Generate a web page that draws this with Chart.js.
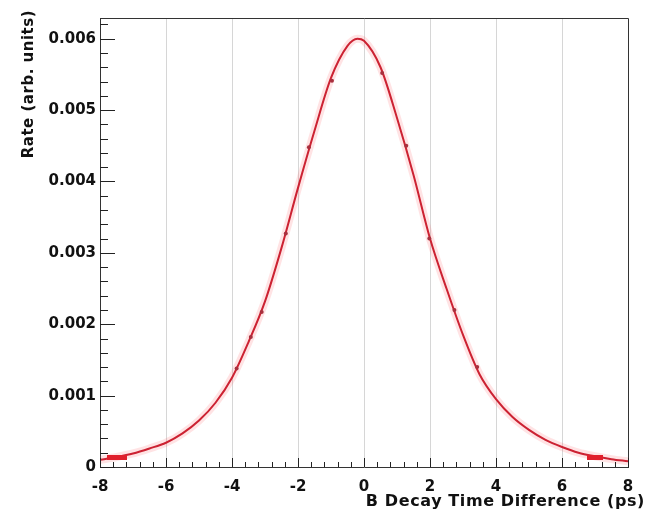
<!DOCTYPE html>
<html>
<head>
<meta charset="utf-8">
<script src="https://cdn.jsdelivr.net/npm/chart.js@4/dist/chart.umd.min.js"></script>
<style>
  html, body { margin: 0; padding: 0; background: #fff; }
  #wrap { width: 647px; height: 515px; position: relative; }
</style>
</head>
<body>
<div id="wrap"><canvas id="c" width="647" height="515"></canvas></div>
<script>
// Fitted decay-time-difference distribution (rate in arb. units)
const fitTimes = [-8, -7.5, -7, -6.5, -6, -5.5, -5, -4.5, -4, -3.5, -3, -2.5, -2, -1.5, -1, -0.5, -0.2,
                  0, 0.5, 1, 1.5, 2, 2.5, 3, 3.5, 4, 4.5, 5, 5.5, 6, 6.5, 7, 7.5, 8];
const fitRates = [0.00010, 0.00014, 0.00019, 0.00026, 0.00034, 0.00047, 0.00065, 0.00090, 0.00125, 0.00175,
                  0.00232, 0.00307, 0.00391, 0.00471, 0.00545, 0.00590, 0.00600,
                  0.00597, 0.00560, 0.00489, 0.00409, 0.00320, 0.00250, 0.00185, 0.00130, 0.00095,
                  0.00070, 0.00052, 0.00038, 0.00028, 0.00020, 0.00015, 0.00011, 0.00008];

// Measured points along the curve
const dataTimes = [-3.86, -3.43, -3.10, -2.37, -1.67, -0.97, 0.55, 1.28, 1.98, 2.74, 3.43];
const dataRates = [0.00138, 0.00182, 0.00217, 0.00327, 0.00448, 0.00541, 0.00552, 0.00450, 0.00320, 0.00220, 0.00140];

// Edge bins
const edgeTimes = [-7.5, 7.0];
const edgeRates = [0.00014, 0.00013];

// Axis ticks
const xTickValues = [-8, -6, -4, -2, 0, 2, 4, 6, 8];
const xTickLabels = ['-8', '-6', '-4', '-2', '0', '2', '4', '6', '8'];
const yTickValues = [0, 0.001, 0.002, 0.003, 0.004, 0.005, 0.006];
const yTickLabels = ['0', '0.001', '0.002', '0.003', '0.004', '0.005', '0.006'];

const xTitle = 'B Decay Time Difference (ps)';
const yTitle = 'Rate (arb. units)';

const X_MIN = -8, X_MAX = 8, Y_MIN = 0, Y_MAX = 0.00629;
const FONT = '"DejaVu Sans", "Liberation Sans", sans-serif';

const pts = (xs, ys) => xs.map((t, i) => ({ x: t, y: ys[i] }));

// Inward major/minor ticks, frame and axis titles
const axisDecor = {
  id: 'axisDecor',
  afterDraw(chart) {
    const { ctx, chartArea: a, scales: { x, y } } = chart;
    ctx.save();
    ctx.strokeStyle = '#333';
    ctx.lineWidth = 1;
    ctx.beginPath();
    ctx.moveTo(a.left + 0.5, a.top + 0.5);
    ctx.lineTo(a.right + 0.5, a.top + 0.5);
    ctx.lineTo(a.right + 0.5, a.bottom + 0.5);
    ctx.stroke();

    ctx.strokeStyle = '#222';
    ctx.beginPath();
    const xMinor = 0.4;
    const nx = Math.round((X_MAX - X_MIN) / xMinor);
    for (let i = 0; i <= nx; i++) {
      const px = Math.round(x.getPixelForValue(X_MIN + i * xMinor)) + 0.5;
      const len = (i % 5 === 0) ? 9 : 5;
      ctx.moveTo(px, a.bottom);
      ctx.lineTo(px, a.bottom - len);
    }
    const yMinor = 0.0002;
    const ny = Math.floor((Y_MAX - Y_MIN) / yMinor + 1e-6);
    for (let i = 0; i <= ny; i++) {
      const py = Math.round(y.getPixelForValue(Y_MIN + i * yMinor)) + 0.5;
      const len = (i % 5 === 0) ? 15 : 8;
      ctx.moveTo(a.left, py);
      ctx.lineTo(a.left + len, py);
    }
    ctx.stroke();

    ctx.fillStyle = '#111';
    ctx.textBaseline = 'middle';
    ctx.textAlign = 'right';
    ctx.font = 'bold 16px ' + FONT;
    if ('letterSpacing' in ctx) ctx.letterSpacing = '0.6px';
    ctx.fillText(xTitle, 645, 502);

    ctx.font = 'bold 15px ' + FONT;
    if ('letterSpacing' in ctx) ctx.letterSpacing = '0.5px';
    ctx.translate(29, 10);
    ctx.rotate(-Math.PI / 2);
    ctx.fillText(yTitle, 0, 0);
    ctx.restore();
  }
};

// Horizontal bar marker for the edge bins
function barMarker(w, h) {
  const c = document.createElement('canvas');
  c.width = w; c.height = h;
  const g = c.getContext('2d');
  g.fillStyle = '#e0202c';
  g.fillRect(0, 0, w, h);
  return c;
}

new Chart(document.getElementById('c'), {
  type: 'line',
  data: {
    datasets: [
      {
        label: 'edges',
        data: pts(edgeTimes, edgeRates),
        showLine: false,
        pointStyle: [barMarker(20, 5), barMarker(16, 5)],
        order: 0
      },
      {
        label: 'data',
        data: pts(dataTimes, dataRates),
        showLine: false,
        pointRadius: 2,
        pointBackgroundColor: '#a8303e',
        pointBorderWidth: 0,
        order: 1
      },
      {
        label: 'fit',
        data: pts(fitTimes, fitRates),
        borderColor: '#cc2232',
        borderWidth: 2,
        pointRadius: 0,
        cubicInterpolationMode: 'monotone',
        order: 2
      },
      {
        label: 'fit halo',
        data: pts(fitTimes, fitRates),
        borderColor: 'rgba(255, 80, 90, 0.16)',
        borderWidth: 8,
        pointRadius: 0,
        cubicInterpolationMode: 'monotone',
        order: 3
      }
    ]
  },
  options: {
    responsive: false,
    animation: false,
    events: [],
    layout: { padding: { left: 0, right: 19, top: 18, bottom: 0 } },
    plugins: { legend: { display: false }, tooltip: { enabled: false } },
    scales: {
      x: {
        type: 'linear',
        min: X_MIN, max: X_MAX,
        afterBuildTicks: (s) => { s.ticks = xTickValues.map(v => ({ value: v })); },
        afterFit: (s) => { s.height = 48; },
        ticks: {
          callback: (v, i) => xTickLabels[i],
          font: { family: FONT, weight: 'bold', size: 15 },
          color: '#111',
          padding: 11,
          maxRotation: 0,
          autoSkip: false
        },
        grid: {
          drawTicks: false,
          color: (c) => (c.tick && (c.tick.value === X_MIN || c.tick.value === X_MAX)) ? 'rgba(0,0,0,0)' : '#d6d6d6',
          lineWidth: 1
        },
        border: { display: true, color: '#333' }
      },
      y: {
        type: 'linear',
        min: Y_MIN, max: Y_MAX,
        afterBuildTicks: (s) => { s.ticks = yTickValues.map(v => ({ value: v })); },
        afterFit: (s) => { s.width = 100; },
        ticks: {
          callback: (v, i) => yTickLabels[i],
          font: { family: FONT, weight: 'bold', size: 15 },
          color: '#111',
          padding: 4,
          autoSkip: false
        },
        grid: { drawOnChartArea: false, drawTicks: false },
        border: { display: true, color: '#333' }
      }
    }
  },
  plugins: [axisDecor]
});
</script>
</body>
</html>
